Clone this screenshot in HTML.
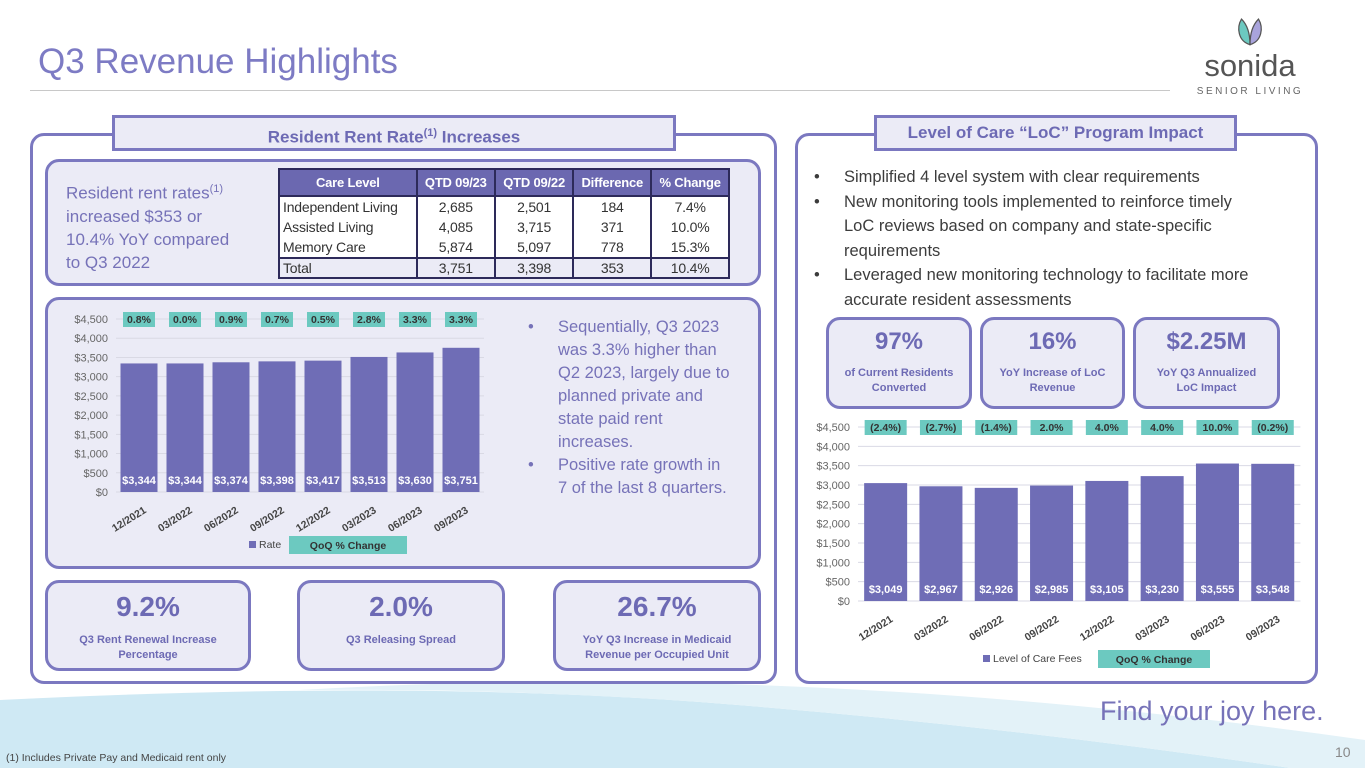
<!DOCTYPE html>
<html><head><meta charset="utf-8"><style>
*{box-sizing:border-box;margin:0;padding:0}
body{width:1365px;height:768px;position:relative;overflow:hidden;background:#fff;font-family:"Liberation Sans",sans-serif}
.abs{position:absolute}
.panel{position:absolute;border:3px solid #7b78c0;border-radius:14px;background:#fff}
.box{position:absolute;border:3px solid #7b78c0;border-radius:14px;background:#ebebf6}
.tab{position:absolute;border:3px solid #7b78c0;background:#ebebf6;color:#6d6ab4;font-weight:bold;font-size:17px;text-align:center;line-height:30px}
.metric{text-align:center;color:#6d6ab4;font-weight:bold}
.metric .big{font-size:28px;margin-top:8px}
.metric .sm{font-size:11px;line-height:15px}
table{border-collapse:collapse;font-size:14px;color:#333;white-space:nowrap;letter-spacing:-0.2px}
td{padding:0 3px;height:20.5px;text-align:center;border-left:2px solid #2d2a5a;border-right:2px solid #2d2a5a}
th{background:#6b68b0;color:#fff;height:27px;padding:0 3px;border:2px solid #2d2a5a;font-size:13px}
ul{list-style:none}
li{position:relative;padding-left:32px}
li:before{content:"•";position:absolute;left:2px}
</style></head><body>
<svg class="abs" style="left:0;top:0" width="1365" height="768"><path d="M0 700 Q400 680 700 702 Q1000 725 1290 768 L0 768 Z" fill="#cfe9f4"/><path d="M300 690 Q800 660 1365 740 L1365 768 L1290 768 Q1000 725 700 702 Q500 688 300 690Z" fill="#e3f2f8"/></svg>
<div class="abs" style="left:38px;top:42px;font-size:35px;color:#7d7bc4">Q3 Revenue Highlights</div>
<div class="abs" style="left:30px;top:90px;width:1140px;height:1px;background:#c8c8c8"></div>
<div class="abs" style="left:1190px;top:15px;width:120px;text-align:center">
<svg width="34" height="32" viewBox="0 0 40 36"><path d="M20 34 C6 30 4 14 10 4 C16 10 20 20 20 34Z" fill="#6cc9c0" stroke="#555" stroke-width="1.5"/><path d="M20 34 C34 30 36 14 30 4 C24 10 20 20 20 34Z" fill="#a9a4dc" stroke="#555" stroke-width="1.5"/></svg>
<div style="font-size:31px;color:#555;line-height:28px">sonida</div>
<div style="font-size:10px;color:#666;letter-spacing:2.5px;margin-top:6px;white-space:nowrap">SENIOR LIVING</div></div>

<div class="panel" style="left:30px;top:133px;width:747px;height:551px"></div>
<div class="tab" style="left:112px;top:115px;width:564px;height:36px">Resident Rent Rate<sup style="font-size:11px">(1)</sup> Increases</div>
<div class="box" style="left:45px;top:159px;width:716px;height:127px"></div>
<div class="abs" style="left:66px;top:178px;font-size:17px;line-height:23px;color:#7672b8">Resident rent rates<sup style="font-size:11px">(1)</sup><br>increased $353 or<br>10.4% YoY compared<br>to Q3 2022</div>
<table class="abs" style="left:278px;top:168px;width:452px;border:2px solid #2d2a5a;background:#fff">
<tr><th>Care Level</th><th>QTD 09/23</th><th>QTD 09/22</th><th>Difference</th><th>% Change</th></tr>
<tr><td style="text-align:left">Independent Living</td><td>2,685</td><td>2,501</td><td>184</td><td>7.4%</td></tr>
<tr><td style="text-align:left">Assisted Living</td><td>4,085</td><td>3,715</td><td>371</td><td>10.0%</td></tr>
<tr><td style="text-align:left">Memory Care</td><td>5,874</td><td>5,097</td><td>778</td><td>15.3%</td></tr>
<tr style="border-top:2px solid #2d2a5a;background:#ebebf6"><td style="text-align:left">Total</td><td>3,751</td><td>3,398</td><td>353</td><td>10.4%</td></tr>
</table>
<div class="box" style="left:45px;top:297px;width:716px;height:272px"></div>
<svg id="c1" class="abs" style="left:45px;top:297px" width="470" height="272"></svg>
<ul class="abs" style="left:526px;top:316px;width:208px;font-size:16.5px;line-height:23px;color:#7672b8">
<li>Sequentially, Q3 2023 was 3.3% higher than Q2 2023, largely due to planned private and state paid rent increases.</li>
<li>Positive rate growth in 7 of the last 8 quarters.</li></ul>
<div class="box metric" style="left:45px;top:580px;width:206px;height:91px"><div class="big">9.2%</div><div class="sm" style="margin-top:10px">Q3 Rent Renewal Increase<br>Percentage</div></div>
<div class="box metric" style="left:297px;top:580px;width:208px;height:91px"><div class="big">2.0%</div><div class="sm" style="margin-top:10px">Q3 Releasing Spread</div></div>
<div class="box metric" style="left:553px;top:580px;width:208px;height:91px"><div class="big">26.7%</div><div class="sm" style="margin-top:10px">YoY Q3 Increase in Medicaid<br>Revenue per Occupied Unit</div></div>

<div class="panel" style="left:795px;top:133px;width:523px;height:551px"></div>
<div class="tab" style="left:874px;top:115px;width:363px;height:36px">Level of Care “LoC” Program Impact</div>
<ul class="abs" style="left:812px;top:165px;width:452px;font-size:16.5px;line-height:24.5px;color:#3c3c3c">
<li>Simplified 4 level system with clear requirements</li>
<li>New monitoring tools implemented to reinforce timely LoC reviews based on company and state-specific requirements</li>
<li>Leveraged new monitoring technology to facilitate more accurate resident assessments</li></ul>
<div class="box metric" style="left:826px;top:317px;width:146px;height:92px"><div class="big" style="font-size:24px">97%</div><div class="sm" style="margin-top:10px">of Current Residents<br>Converted</div></div>
<div class="box metric" style="left:980px;top:317px;width:145px;height:92px"><div class="big" style="font-size:24px">16%</div><div class="sm" style="margin-top:10px">YoY Increase of LoC<br>Revenue</div></div>
<div class="box metric" style="left:1133px;top:317px;width:147px;height:92px"><div class="big" style="font-size:24px">$2.25M</div><div class="sm" style="margin-top:10px">YoY Q3 Annualized<br>LoC Impact</div></div>
<svg id="c2" class="abs" style="left:800px;top:412px" width="510" height="265"></svg>

<div class="abs" style="left:1100px;top:696px;font-size:27px;color:#7672b8">Find your joy here.</div>
<div class="abs" style="left:6px;top:752px;font-size:10.5px;color:#444">(1) Includes Private Pay and Medicaid rent only</div>
<div class="abs" style="left:1335px;top:744px;font-size:14px;color:#888">10</div>
<script>
const categories=["12/2021","03/2022","06/2022","09/2022","12/2022","03/2023","06/2023","09/2023"];
const rentValues=[3344,3344,3374,3398,3417,3513,3630,3751];
const rentChange=["0.8%","0.0%","0.9%","0.7%","0.5%","2.8%","3.3%","3.3%"];
const locValues=[3049,2967,2926,2985,3105,3230,3555,3548];
const locChange=["(2.4%)","(2.7%)","(1.4%)","2.0%","4.0%","4.0%","10.0%","(0.2%)"];
const yTicks=[0,500,1000,1500,2000,2500,3000,3500,4000,4500];
const NS="http://www.w3.org/2000/svg";
function mk(svg,tag,attrs,text){const e=document.createElementNS(NS,tag);for(const k in attrs)e.setAttribute(k,attrs[k]);if(text!==undefined)e.textContent=text;svg.appendChild(e);return e;}
function fmt(v){return "$"+v.toLocaleString("en-US");}
function draw(id,vals,chg,o){
 const svg=document.getElementById(id);
 const y=v=>o.y0-(v/4500)*(o.y0-o.y1);
 const x=i=>o.x0+o.step*(i+0.5);
 yTicks.forEach(t=>{
  const g=mk(svg,"line",{x1:o.x0,x2:o.x0+o.step*categories.length,y1:y(t),y2:y(t),stroke:"#d9d9e4","stroke-width":1});
  
  const l=mk(svg,"text",{x:o.x0-8,y:y(t)+4,"text-anchor":"end","font-size":11,fill:"#666"},"$"+t.toLocaleString("en-US"));
  
 });
 categories.forEach((c,i)=>{
  const b=mk(svg,"rect",{x:x(i)-o.bw/2,y:y(vals[i]),width:o.bw,height:o.y0-y(vals[i]),fill:"#6f6db6"});
  
  const v=mk(svg,"text",{x:x(i),y:o.y0-8,"text-anchor":"middle","font-size":11,"font-weight":"bold",fill:"#fff"},fmt(vals[i]));
  
  const r=mk(svg,"rect",{x:x(i)-o.cw/2,y:o.y1-7,width:o.cw,height:15,fill:"#6cc9c0"});
  
  const t=mk(svg,"text",{x:x(i),y:o.y1+4,"text-anchor":"middle","font-size":10.5,"font-weight":"bold",fill:"#333"},chg[i]);
  
  const xl=mk(svg,"text",{x:x(i)+8,y:o.y0+20,"text-anchor":"end","font-size":10.5,fill:"#444","font-weight":"bold",transform:`rotate(-32 ${x(i)+8} ${o.y0+20})`},c);
  
 });
 const lx=o.legX;
 const s=mk(svg,"rect",{x:lx,y:o.legY-7,width:7,height:7,fill:"#6f6db6"});
 
 const lt=mk(svg,"text",{x:lx+10,y:o.legY,"font-size":10.5,fill:"#444"},o.name);
 
 const lb=mk(svg,"rect",{x:o.legBox,y:o.legY-12,width:o.legBoxW,height:18,fill:"#6cc9c0"});
 
 const lq=mk(svg,"text",{x:o.legBox+o.legBoxW/2,y:o.legY+1,"text-anchor":"middle","font-size":10.5,"font-weight":"bold",fill:"#333"},"QoQ % Change");
 
}
draw("c1",rentValues,rentChange,{x0:71,step:46,bw:37,cw:32,y0:195,y1:22,legX:204,legY:251,name:"Rate",legBox:244,legBoxW:118});
draw("c2",locValues,locChange,{x0:58,step:55.3,bw:43,cw:42,y0:189,y1:15,legX:183,legY:250,name:"Level of Care Fees",legBox:298,legBoxW:112});
</script>
</body></html>
